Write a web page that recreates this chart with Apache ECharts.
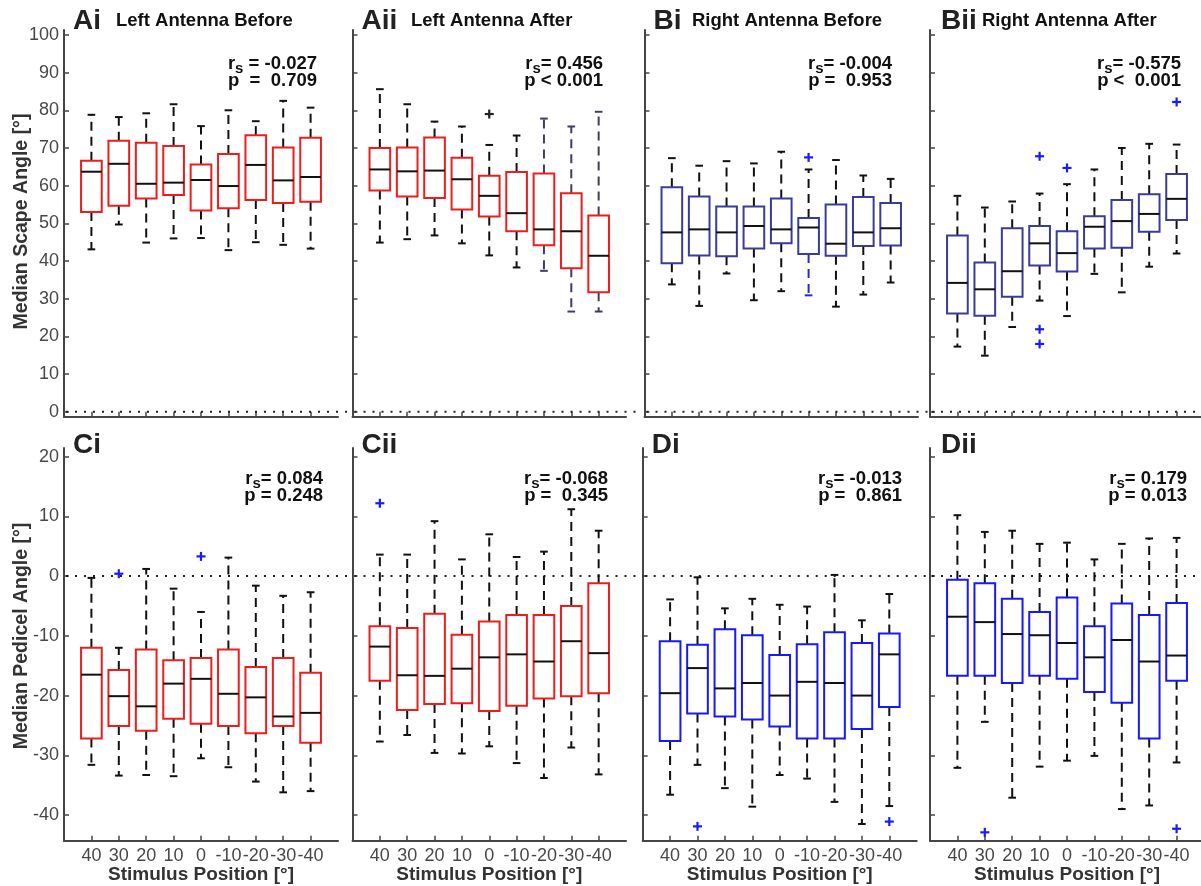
<!DOCTYPE html>
<html><head><meta charset="utf-8">
<script src="https://cdn.jsdelivr.net/npm/echarts@6/dist/echarts.min.js"></script>
<style>html,body{margin:0;padding:0;background:#fff}#c{width:1201px;height:886px}</style>
</head><body><div id="c"></div>
<script>
// ---------------- DATA ----------------
const categories = ['40','30','20','10','0','-10','-20','-30','-40'];
const scapeTicks = [0,10,20,30,40,50,60,70,80,90,100];
const pedicelTicks = [-40,-30,-20,-10,0,10,20];
const zeroLine = 0;

// Ai Left Antenna Before (scape)
const aiMax = [78.8,78.2,79.2,81.6,75.8,80.0,77.1,82.5,80.7];
const aiQ3  = [66.6,71.9,71.4,70.5,65.6,68.4,73.4,70.1,72.7];
const aiMed = [63.7,65.8,60.5,60.8,61.5,59.9,65.5,61.4,62.3];
const aiQ1  = [53.0,54.7,56.6,57.5,53.4,54.0,56.2,55.4,55.7];
const aiMin = [43.1,49.7,44.9,46.0,46.1,42.9,45.0,44.3,43.3];
const aiOut = [];

// Aii Left Antenna After (scape)
const aiiMax = [85.6,81.6,77.0,75.7,70.8,73.3,77.8,75.7,79.6];
const aiiQ3  = [70.0,70.1,72.8,67.4,62.6,63.6,63.2,58.0,52.1];
const aiiMed = [64.3,63.8,64.0,61.7,57.3,52.7,48.4,47.9,41.4];
const aiiQ1  = [58.7,57.1,56.7,53.7,51.8,47.9,44.2,38.1,31.7];
const aiiMin = [44.9,45.8,46.8,44.7,41.5,38.3,37.4,26.6,26.6];
const aiiOut = [[5,79.0]];

// Bi Right Antenna Before (scape)
const biMax = [67.3,65.3,66.5,65.9,69.0,64.3,66.8,62.7,61.8];
const biQ3  = [59.6,57.1,54.5,54.5,56.6,51.4,55.0,57.0,55.4];
const biMed = [47.6,48.4,47.6,49.3,48.4,48.9,44.6,47.6,48.7];
const biQ1  = [39.4,41.5,41.3,43.3,44.7,41.9,41.4,44.0,44.1];
const biMin = [33.8,28.1,36.7,29.6,32.0,30.9,27.9,31.1,34.3];
const biOut = [[6,67.5]];

// Bii Right Antenna After (scape)
const biiMax = [57.3,54.2,55.8,57.9,60.4,64.3,70.0,71.1,70.9];
const biiQ3  = [46.8,39.6,48.7,49.3,47.9,51.9,56.2,57.7,63.1];
const biiMed = [34.2,32.5,37.3,44.7,42.1,49.1,50.6,52.5,56.5];
const biiQ1  = [26.1,25.5,30.5,38.8,37.2,43.3,43.5,47.8,50.9];
const biiMin = [17.3,14.9,22.5,29.5,25.4,36.6,31.7,38.5,42.0];
const biiOut = [[4,67.8],[4,21.9],[4,18.0],[5,64.7],[9,82.2]];

// Ci Left Antenna Before (pedicel)
const ciMax = [-0.3,-12.0,1.2,-2.1,-6.0,3.1,-1.6,-3.3,-2.7];
const ciQ3  = [-12.0,-15.7,-12.3,-14.1,-13.7,-12.3,-15.2,-13.7,-16.2];
const ciMed = [-16.5,-20.1,-21.8,-18.0,-17.2,-19.7,-20.3,-23.5,-22.9];
const ciQ1  = [-27.2,-25.1,-25.9,-23.9,-24.7,-25.1,-26.3,-25.1,-27.9];
const ciMin = [-31.6,-33.4,-33.3,-33.5,-30.5,-32.0,-34.4,-36.2,-36.0];
const ciOut = [[2,0.4],[5,3.3]];

// Cii Left Antenna After (pedicel)
const ciiMax = [3.6,3.6,9.2,2.8,7.0,3.2,4.1,11.2,7.6];
const ciiQ3  = [-8.4,-8.7,-6.3,-9.8,-7.6,-6.5,-6.5,-5.0,-1.2];
const ciiMed = [-11.8,-16.6,-16.7,-15.5,-13.6,-13.1,-14.3,-10.9,-12.9];
const ciiQ1  = [-17.5,-22.4,-21.4,-21.3,-22.6,-21.7,-20.5,-20.1,-19.6];
const ciiMin = [-27.7,-26.6,-29.6,-29.7,-28.5,-31.3,-33.8,-28.7,-33.2];
const ciiOut = [[1,12.2]];

// Di Right Antenna Before (pedicel)
const diMax = [-3.9,-0.2,-5.4,-3.8,-4.8,-5.1,0.2,-7.4,-3.0];
const diQ3  = [-10.9,-11.5,-8.9,-9.9,-13.2,-11.4,-9.4,-11.2,-9.6];
const diMed = [-19.6,-15.4,-18.8,-17.9,-20.0,-17.7,-17.9,-20.0,-13.1];
const diQ1  = [-27.6,-23.0,-23.5,-24.0,-25.2,-27.2,-27.2,-25.6,-21.9];
const diMin = [-36.6,-31.6,-35.5,-38.6,-33.3,-33.9,-37.8,-41.5,-38.5];
const diOut = [[2,-41.9],[9,-41.1]];

// Dii Right Antenna After (pedicel)
const diiMax = [10.2,7.4,7.6,5.4,5.6,2.8,5.4,6.3,6.4];
const diiQ3  = [-0.6,-1.2,-3.8,-6.0,-3.6,-8.4,-4.6,-6.5,-4.5];
const diiMed = [-6.8,-7.7,-9.7,-9.9,-11.2,-13.6,-10.7,-14.3,-13.3];
const diiQ1  = [-16.7,-16.7,-17.9,-16.7,-17.2,-19.4,-21.2,-27.2,-17.5];
const diiMin = [-32.1,-24.4,-37.1,-31.9,-30.9,-30.1,-39.0,-38.4,-31.2];
const diiOut = [[2,-42.9],[9,-42.3]];

// ---------------- LAYOUT ----------------
const FONT = "'Liberation Sans', Arial, Helvetica, sans-serif";
const RED = '#f01c1c', NAVY = '#3b3b9c', BLUE = '#1818ff', OUTBLUE = '#1a1aff';
const K = '#111', SL = '#3e3e5e', WB = '#2a2ad0';

const panels = [
  {id:'Ai', title:'Left Antenna Before', row:0, left:64, width:274, d:[aiMin,aiQ1,aiMed,aiQ3,aiMax], out:aiOut, color:RED, outColor:OUTBLUE,
   r1:'rs = -0.027', p:'p  =  0.709', sx:317, yLabels:true, tx:116},
  {id:'Aii', title:'Left Antenna After', row:0, left:352.5, width:273.5, d:[aiiMin,aiiQ1,aiiMed,aiiQ3,aiiMax], out:aiiOut, color:RED, outColor:'#222',
   r1:'rs= 0.456', p:'p < 0.001', sx:603, tx:411,
   wcHi:[K,K,K,K,K,K,SL,SL,SL], wcLo:[K,K,K,K,K,K,SL,SL,SL]},
  {id:'Bi', title:'Right Antenna Before', row:0, left:644.5, width:273.5, d:[biMin,biQ1,biMed,biQ3,biMax], out:biOut, color:NAVY, outColor:OUTBLUE,
   r1:'rs= -0.004', p:'p =  0.953', sx:892, tx:692, wcLo:[K,K,K,K,K,WB,K,K,K]},
  {id:'Bii', title:'Right Antenna After', row:0, left:930, width:274, d:[biiMin,biiQ1,biiMed,biiQ3,biiMax], out:biiOut, color:NAVY, outColor:OUTBLUE,
   r1:'rs= -0.575', p:'p <  0.001', sx:1181, tx:982},
  {id:'Ci', title:'', row:1, left:64, width:274, d:[ciMin,ciQ1,ciMed,ciQ3,ciMax], out:ciOut, color:RED, outColor:OUTBLUE,
   r1:'rs= 0.084', p:'p = 0.248', sx:323, yLabels:true},
  {id:'Cii', title:'', row:1, left:352.5, width:273.5, d:[ciiMin,ciiQ1,ciiMed,ciiQ3,ciiMax], out:ciiOut, color:RED, outColor:OUTBLUE,
   r1:'rs= -0.068', p:'p =  0.345', sx:608},
  {id:'Di', title:'', row:1, left:642.7, width:274, d:[diMin,diQ1,diMed,diQ3,diMax], out:diOut, color:BLUE, outColor:OUTBLUE,
   r1:'rs= -0.013', p:'p =  0.861', sx:902},
  {id:'Dii', title:'', row:1, left:930, width:274, d:[diiMin,diiQ1,diiMed,diiQ3,diiMax], out:diiOut, color:BLUE, outColor:OUTBLUE,
   r1:'rs= 0.179', p:'p = 0.013', sx:1187}
];
const rows = [
  {top:30, height:386.7, min:-1.3, max:101.3, ticks:scapeTicks, labelY:21.5, statY:[64,80.7]},
  {top:448, height:392.7, min:-44.3, max:21.45, ticks:pedicelTicks, labelY:445.5, statY:[479,496]}
];
const xTickVals = categories.map((c,i)=>i+1);

function boxRenderer(color, wcHi, wcLo){
  return function(params, api){
    const x = api.value(0);
    const lo = api.coord([x, api.value(1)]);
    const q1 = api.coord([x, api.value(2)]);
    const md = api.coord([x, api.value(3)]);
    const q3 = api.coord([x, api.value(4)]);
    const hi = api.coord([x, api.value(5)]);
    const bw = api.size([0.755, 0])[0];
    const cw = api.size([0.28, 0])[0];
    const cx = lo[0];
    const wh = (wcHi && wcHi[params.dataIndex]) || K;
    const wl = (wcLo && wcLo[params.dataIndex]) || K;
    const solid = {stroke:K, lineWidth:2, fill:null};
    return {type:'group', children:[
      {type:'line', shape:{x1:cx,y1:q3[1],x2:cx,y2:hi[1]}, style:{stroke:wh, lineWidth:2, lineDash:[9,6], fill:null}},
      {type:'line', shape:{x1:cx,y1:q1[1],x2:cx,y2:lo[1]}, style:{stroke:wl, lineWidth:2, lineDash:[9,6], fill:null}},
      {type:'line', shape:{x1:cx-cw/2,y1:hi[1],x2:cx+cw/2,y2:hi[1]}, style:{stroke:wh, lineWidth:2, fill:null}},
      {type:'line', shape:{x1:cx-cw/2,y1:lo[1],x2:cx+cw/2,y2:lo[1]}, style:{stroke:wl, lineWidth:2, fill:null}},
      {type:'rect', shape:{x:cx-bw/2,y:q3[1],width:bw,height:q1[1]-q3[1]}, style:{fill:null,stroke:color,lineWidth:2}},
      {type:'line', shape:{x1:cx-bw/2,y1:md[1],x2:cx+bw/2,y2:md[1]}, style:solid}
    ]};
  };
}
function plusRenderer(color){
  return function(params, api){
    const p = api.coord([api.value(0), api.value(1)]);
    const s = 4.5;
    const st = {stroke:color, lineWidth:2.2, fill:null};
    return {type:'group', children:[
      {type:'line', shape:{x1:p[0]-s,y1:p[1],x2:p[0]+s,y2:p[1]}, style:st},
      {type:'line', shape:{x1:p[0],y1:p[1]-s,x2:p[0],y2:p[1]+s}, style:st}
    ]};
  };
}
function zeroRenderer(params, api){
  const a = api.coord([0, api.value(0)]);
  const b = api.coord([10.55, api.value(0)]);
  return {type:'line', shape:{x1:a[0]+2,y1:a[1],x2:b[0],y2:b[1]}, style:{stroke:'#222', lineWidth:2, lineDash:[2,7], fill:null}};
}

const grid=[], xAxis=[], yAxis=[], series=[], graphic=[];
const AXC = '#454545';
panels.forEach((pn, i) => {
  const r = rows[pn.row];
  grid.push({left:pn.left, width:pn.width, top:r.top, height:r.height, containLabel:false, outerBoundsMode:'none'});
  xAxis.push({
    type:'value', gridIndex:i, min:0, max:10,
    axisLine:{show:true, onZero:false, lineStyle:{color:AXC, width:2}},
    axisTick:{show:true, inside:true, length:5, customValues:xTickVals, lineStyle:{color:AXC, width:1.5}},
    axisLabel:{show:pn.row===1, customValues:xTickVals, formatter:v=>categories[Math.round(v)-1]||'', fontSize:18, color:'#484848', fontFamily:FONT, margin:6},
    splitLine:{show:false},
    name: pn.row===1 ? 'Stimulus Position [°]' : '',
    nameLocation:'middle', nameGap:25,
    nameTextStyle:{fontSize:19, fontWeight:'bold', color:'#333', fontFamily:FONT}
  });
  yAxis.push({
    type:'value', gridIndex:i, min:r.min, max:r.max,
    axisLine:{show:true, onZero:false, lineStyle:{color:AXC, width:2}},
    axisTick:{show:true, inside:true, length:5, customValues:r.ticks, lineStyle:{color:AXC, width:1.5}},
    axisLabel:{show:!!pn.yLabels, customValues:r.ticks, fontSize:18, color:'#484848', fontFamily:FONT, margin:5},
    splitLine:{show:false}
  });
  series.push({
    type:'custom', xAxisIndex:i, yAxisIndex:i, silent:true,
    renderItem: zeroRenderer,
    encode:{x:-1, y:0},
    data:[[zeroLine]]
  });
  series.push({
    type:'custom', xAxisIndex:i, yAxisIndex:i, silent:true,
    renderItem: boxRenderer(pn.color, pn.wcHi, pn.wcLo),
    encode:{x:0, y:[1,2,3,4,5]},
    data: categories.map((c,k)=>[k+1, pn.d[0][k], pn.d[1][k], pn.d[2][k], pn.d[3][k], pn.d[4][k]])
  });
  if (pn.out.length) series.push({
    type:'custom', xAxisIndex:i, yAxisIndex:i, silent:true,
    renderItem: plusRenderer(pn.outColor),
    encode:{x:0, y:1},
    data: pn.out.map(o=>[o[0], o[1]])
  });
  // panel letter
  graphic.push({type:'text', x:pn.left+9 + (pn.left>900?2:0), y:r.labelY, silent:true,
    style:{text:pn.id, font:`bold 28px ${FONT}`, fill:'#222', align:'left', verticalAlign:'middle'}});
  if (pn.title) graphic.push({type:'text', x:pn.tx, y:21,
    silent:true, style:{text:pn.title, font:`bold 18.5px ${FONT}`, fill:'#111', align:'left', verticalAlign:'middle'}});
  // stats text
  graphic.push({type:'text', x:pn.sx, y:r.statY[0], silent:true,
    style:{text:'{a|r}{s|s}{a|'+pn.r1.slice(2)+'}', align:'right', verticalAlign:'middle',
      rich:{a:{font:`bold 18.5px ${FONT}`, fill:'#111'}, s:{font:`bold 15px ${FONT}`, fill:'#111', padding:[10,0,0,0]}}}});
  graphic.push({type:'text', x:pn.sx, y:r.statY[1], silent:true,
    style:{text:pn.p, font:`bold 18.5px ${FONT}`, fill:'#111', align:'right', verticalAlign:'middle'}});
});
graphic.push({type:'text', x:22, y:221.5, rotation:Math.PI/2, silent:true,
  style:{text:'Median Scape Angle [°]', font:`bold 19.5px ${FONT}`, fill:'#333', align:'center', verticalAlign:'middle'}});
graphic.push({type:'text', x:22, y:636, rotation:Math.PI/2, silent:true,
  style:{text:'Median Pedicel Angle [°]', font:`bold 19.5px ${FONT}`, fill:'#333', align:'center', verticalAlign:'middle'}});

const chart = echarts.init(document.getElementById('c'), null, {renderer:'canvas'});
chart.setOption({animation:false, backgroundColor:'#fff', grid, xAxis, yAxis, series, graphic});
</script></body></html>
